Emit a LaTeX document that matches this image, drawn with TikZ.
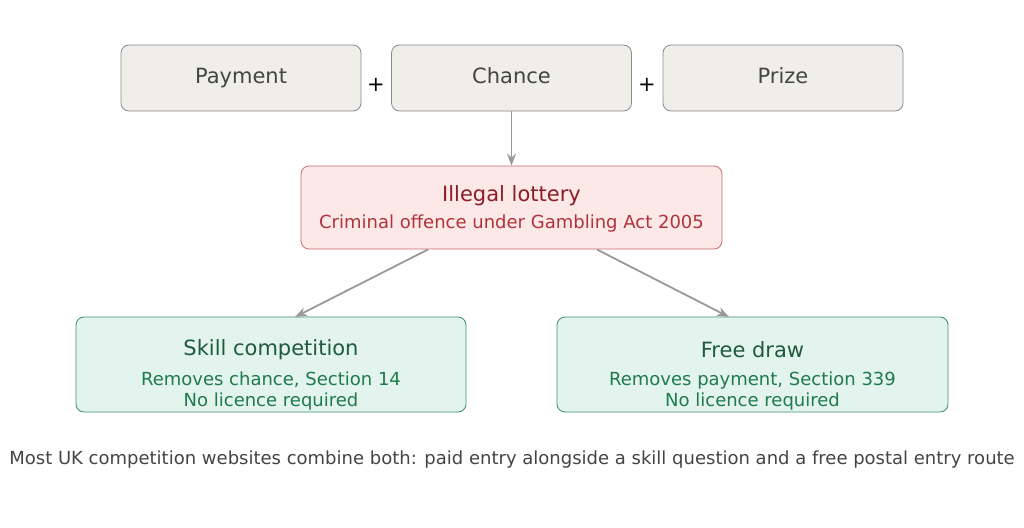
\documentclass[tikz,border=0pt]{standalone}
\usepackage{fontspec}
\setmainfont{DejaVu Sans}
\usetikzlibrary{arrows.meta}
\definecolor{gfill}{HTML}{EFEEEA}\definecolor{gline}{HTML}{8A8A8A}
\definecolor{rfill}{HTML}{FDE8E8}\definecolor{rline}{HTML}{C86A72}
\definecolor{rtext}{HTML}{8B1E24}\definecolor{rsub}{HTML}{B0343A}
\definecolor{efill}{HTML}{E3F4EE}\definecolor{eline}{HTML}{3A9066}
\definecolor{etext}{HTML}{1E5A3C}\definecolor{esub}{HTML}{1F7A4C}
\definecolor{txt}{HTML}{444444}
\begin{document}
\begin{tikzpicture}[x=1pt,y=-1pt,
 box/.style={draw=gline,fill=gfill,rounded corners=8pt,minimum width=240pt,minimum height=66pt,font=\fontsize{21}{25}\selectfont,text=txt,line width=0.8pt,text height=15pt,text depth=4pt},
 big/.style={font=\fontsize{21}{25}\selectfont},
 small/.style={font=\fontsize{18}{22}\selectfont},
 arr/.style={draw=gray!80,line width=1.8pt,-{Stealth[length=12pt,width=9pt]}}]
\useasboundingbox (0,0) rectangle (1024,527);
\node[box] (pay) at (241,78) {Payment};
\node[box] (cha) at (511.5,78) {Chance};
\node[box] (pri) at (783,78) {Prize};
\node[big,text=black] (p1) at (376,85) {+};
\node[big,text=black] (p2) at (647,85) {+};
\node[draw=rline,fill=rfill,rounded corners=8pt,minimum width=421pt,minimum height=83pt,line width=0.8pt] (ill) at (511.5,207.5) {};
\node[text=rtext,big] (ilt) at (511.5,196) {Illegal lottery};
\node[text=rsub,small] (ils) at (511.5,224) {Criminal offence under Gambling Act 2005};
\node[draw=eline,fill=efill,rounded corners=8pt,minimum width=390pt,minimum height=95pt,line width=0.8pt] (sk) at (271,364.5) {};
\node[draw=eline,fill=efill,rounded corners=8pt,minimum width=391pt,minimum height=95pt,line width=0.8pt] (fd) at (752.5,364.5) {};
\node[text=etext,big] at (271,350) {Skill competition};
\node[text=esub,small,align=center] at (271,391) {Removes chance, Section 14\\[-1pt]No licence required};
\node[text=etext,big] at (752.5,350) {Free draw};
\node[text=esub,small,align=center] at (752.5,391) {Removes payment, Section 339\\[-1pt]No licence required};
\node[text=txt,small] (cap) at (512,460) {Most UK competition websites combine both: paid entry alongside a skill question and a free postal entry route};
\coordinate (a1) at (428,249.5); \coordinate (a2) at (295,317);
\coordinate (b1) at (597,249.5); \coordinate (b2) at (729,317);
\draw[arr] (cha.south) -- (ill.north);
\draw[arr] (a1) -- (a2);
\draw[arr] (b1) -- (b2);
\end{tikzpicture}
\end{document}
